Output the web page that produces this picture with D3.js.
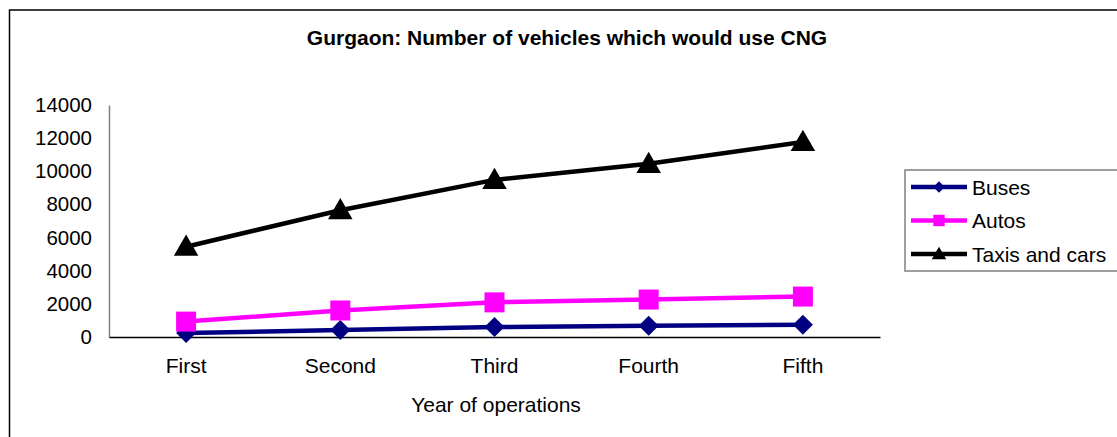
<!DOCTYPE html>
<html>
<head>
<meta charset="utf-8">
<script src="https://cdn.jsdelivr.net/npm/d3@7"></script>
<style>
  body { margin: 0; background: #fff; }
  svg { display: block; font-family: "Liberation Sans", Arial, sans-serif; }
</style>
</head>
<body>
<svg width="1117" height="437"></svg>
<script>
// Chart data.
var years = ["First", "Second", "Third", "Fourth", "Fifth"];
var buses = [240, 420, 600, 680, 740];
var autos = [930, 1600, 2090, 2260, 2440];
var taxis = [5450, 7650, 9480, 10450, 11770];
var yTicks = [0, 2000, 4000, 6000, 8000, 10000, 12000, 14000];

// Diamonds are drawn as squares turned by 45 degrees (rot).
var series = [
  { name: "Buses", values: buses, color: "#000080", symbol: d3.symbolSquare, rot: 45, size: 200, legendSize: 64 },
  { name: "Autos", values: autos, color: "#ff00ff", symbol: d3.symbolSquare, rot: 0, size: 400, legendSize: 130 },
  { name: "Taxis and cars", values: taxis, color: "#000000", symbol: d3.symbolTriangle, rot: 0, size: 260, legendSize: 90 }
];

var svg = d3.select("svg");

// Chart area border (runs off the right and bottom edge).
svg.append("path")
  .attr("d", "M9.5,440 V10 H1120")
  .attr("fill", "none")
  .attr("stroke", "#000")
  .attr("stroke-width", 1.5);

var x = d3.scaleBand()
  .domain(years)
  .range([109, 880]);

var y = d3.scaleLinear()
  .domain([0, 14000])
  .range([337, 105]);

// Title.
svg.append("text")
  .attr("x", 567)
  .attr("y", 45)
  .attr("text-anchor", "middle")
  .attr("font-weight", "bold")
  .attr("font-size", "21px")
  .text("Gurgaon: Number of vehicles which would use CNG");

// Y axis.
var yAxis = svg.append("g")
  .attr("transform", "translate(109,0)")
  .call(d3.axisLeft(y).tickValues(yTicks).tickFormat(d3.format("d")).tickSize(0).tickPadding(17));
yAxis.select(".domain").attr("stroke", "#808080").attr("stroke-width", 1.5);
yAxis.selectAll("text")
  .attr("font-size", "20.5px")
  .attr("font-family", "Liberation Sans, Arial, sans-serif")
  .attr("fill", "#000");

// X axis.
var xAxis = svg.append("g")
  .attr("transform", "translate(0,337)")
  .call(d3.axisBottom(x).tickSize(0).tickPadding(21));
xAxis.select(".domain").attr("stroke", "#000").attr("stroke-width", 1.5);
xAxis.selectAll("text")
  .attr("font-size", "21px")
  .attr("font-family", "Liberation Sans, Arial, sans-serif")
  .attr("fill", "#000");

svg.append("text")
  .attr("x", 496)
  .attr("y", 412)
  .attr("text-anchor", "middle")
  .attr("font-size", "21px")
  .text("Year of operations");

// Lines and markers.
var line = d3.line()
  .x(function(d, i) { return x(years[i]) + x.bandwidth() / 2; })
  .y(function(d) { return y(d); });

for (let s of series) {
  svg.append("path")
    .datum(s.values)
    .attr("d", line)
    .attr("fill", "none")
    .attr("stroke", s.color)
    .attr("stroke-width", 4.5)
    .attr("stroke-linejoin", "round");

  svg.append("g").selectAll("path")
    .data(s.values)
    .enter().append("path")
      .attr("d", d3.symbol().type(s.symbol).size(s.size))
      .attr("fill", s.color)
      .attr("transform", function(d, i) {
        var dy = s.symbol === d3.symbolTriangle ? 2 : 0;
        return "translate(" + (x(years[i]) + x.bandwidth() / 2) + "," + (y(d) + dy) + ") rotate(" + s.rot + ")";
      });
}

// Legend.
var legend = svg.append("g");
legend.append("rect")
  .attr("x", 905)
  .attr("y", 170)
  .attr("width", 230)
  .attr("height", 101)
  .attr("fill", "#fff")
  .attr("stroke", "#808080")
  .attr("stroke-width", 1.5);

series.forEach(function(s, i) {
  var ly = 187 + i * 33.5;
  legend.append("line")
    .attr("x1", 911).attr("x2", 967)
    .attr("y1", ly).attr("y2", ly)
    .attr("stroke", s.color)
    .attr("stroke-width", 4.5);
  legend.append("path")
    .attr("d", d3.symbol().type(s.symbol).size(s.legendSize))
    .attr("fill", s.color)
    .attr("transform", "translate(939," + (ly + (s.symbol === d3.symbolTriangle ? 1 : 0)) + ") rotate(" + s.rot + ")");
  legend.append("text")
    .attr("x", 972)
    .attr("y", ly + 7.5)
    .attr("font-size", "21px")
    .text(s.name);
});
</script>
</body>
</html>
